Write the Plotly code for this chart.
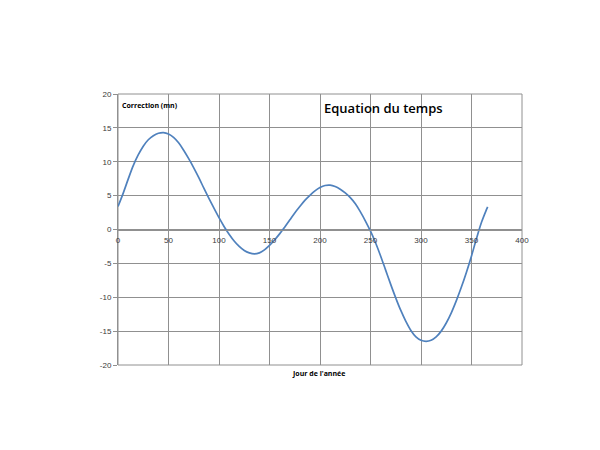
import plotly.graph_objects as go

days = [0, 5, 10, 15, 20, 25, 30, 35, 40, 45, 50, 55, 60, 65, 70, 75, 80, 85, 90, 95,
        100, 105, 110, 115, 120, 125, 130, 135, 140, 145, 150, 155, 160, 165, 170, 175,
        180, 185, 190, 195, 200, 205, 210, 215, 220, 225, 230, 235, 240, 245, 250, 255,
        260, 265, 270, 275, 280, 285, 290, 295, 300, 305, 310, 315, 320, 325, 330, 335,
        340, 345, 350, 355, 360, 365, 366]
correction = [3.4, 5.3, 7.4, 9.4, 11.0, 12.3, 13.25, 13.85, 14.2, 14.3, 14.1, 13.6, 12.8,
              11.7, 10.45, 9.1, 7.65, 6.1, 4.6, 3.15, 1.75, 0.45, -0.7, -1.7, -2.5, -3.1,
              -3.45, -3.6, -3.45, -3.0, -2.35, -1.55, -0.65, 0.35, 1.4, 2.45, 3.4, 4.3,
              5.05, 5.7, 6.2, 6.5, 6.55, 6.35, 5.95, 5.4, 4.7, 3.8, 2.6, 1.25, -0.25,
              -1.95, -3.9, -6.0, -8.1, -10.1, -11.95, -13.55, -14.9, -15.85, -16.35,
              -16.5, -16.35, -15.85, -15.0, -13.8, -12.3, -10.5, -8.5, -6.3, -3.9, -1.3,
              1.1, 3.0, 3.35]

x_ticks = [0, 50, 100, 150, 200, 250, 300, 350, 400]
y_ticks = [-20, -15, -10, -5, 0, 5, 10, 15, 20]

grid = "#909090"
tickfont = dict(family="Liberation Sans, Arial, sans-serif", size=8, color="#3a3a3a")

fig = go.Figure()
fig.add_trace(go.Scatter(
    x=days, y=correction, mode="lines",
    line=dict(color="#4f81bd", width=1.7, shape="spline", smoothing=1.0),
    showlegend=False, hoverinfo="x+y",
))

fig.update_layout(
    width=584, height=434,
    margin=dict(l=110, r=70, t=86, b=77),
    paper_bgcolor="white", plot_bgcolor="white",
    xaxis=dict(
        range=[0, 400], tickvals=x_ticks, ticktext=[str(v) for v in x_ticks],
        showgrid=True, gridcolor=grid, gridwidth=1,
        zeroline=False, showline=True, linecolor=grid, linewidth=1,
        anchor="free", position=0.5, ticks="", tickfont=tickfont,
        ticklabelstandoff=3,
    ),
    yaxis=dict(
        range=[-20, 20], tickvals=y_ticks, ticktext=[str(v) for v in y_ticks],
        showgrid=True, gridcolor=grid, gridwidth=1,
        zeroline=True, zerolinecolor=grid, zerolinewidth=1,
        showline=True, linecolor=grid, linewidth=1,
        ticks="outside", ticklen=4, tickcolor=grid, tickfont=tickfont,
    ),
    shapes=[
        dict(type="rect", xref="paper", yref="paper", x0=0, x1=1, y0=0, y1=1,
             line=dict(color=grid, width=1), fillcolor="rgba(0,0,0,0)", layer="below"),
    ],
    annotations=[
        dict(text="Equation du temps", xref="paper", yref="paper", x=0.656, y=0.948,
             xanchor="center", yanchor="middle", showarrow=False,
             font=dict(family="Open Sans, sans-serif", size=13, color="#000000", weight=600)),
        dict(text="Correction (mn)", xref="paper", yref="paper", x=0.006, y=0.959,
             xanchor="left", yanchor="middle", showarrow=False,
             font=dict(family="Open Sans, sans-serif", size=7, color="#000000", weight=700)),
        dict(text="Jour de l'année", xref="paper", yref="paper", x=0.4975, y=-0.03,
             xanchor="center", yanchor="middle", showarrow=False,
             font=dict(family="Open Sans, sans-serif", size=7, color="#000000", weight=700)),
    ],
)

fig.write_html("out.html")
